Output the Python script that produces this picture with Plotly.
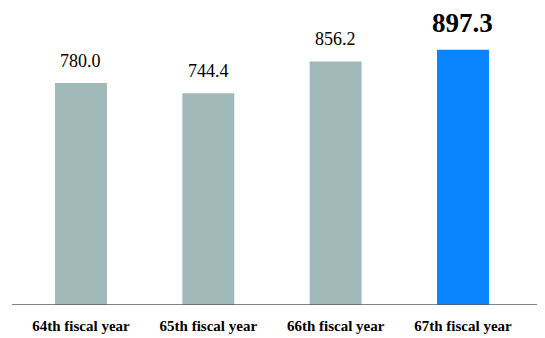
import plotly.graph_objects as go

categories = ["64th fiscal year", "65th fiscal year", "66th fiscal year", "67th fiscal year"]
values = [780.0, 744.4, 856.2, 897.3]
value_labels = ["780.0", "744.4", "856.2", "897.3"]

bar_colors = ["#a2b9b9", "#a2b9b9", "#a2b9b9", "#0a84ff"]
serif = "Liberation Serif, Times New Roman, serif"

fig = go.Figure()
fig.add_trace(go.Bar(
    x=categories, y=values, marker=dict(color=bar_colors, line=dict(width=0)),
    width=0.408, hoverinfo="skip",
))

for i, (c, v, t) in enumerate(zip(categories, values, value_labels)):
    last = i == len(categories) - 1
    fig.add_annotation(
        x=c, y=v, text=t, showarrow=False, xanchor="center", yanchor="middle",
        yshift=27 if last else 22,
        font=dict(family=serif, size=27 if last else 18, color="#000000",
                  weight="bold" if last else "normal"),
    )

fig.add_shape(type="line", xref="paper", yref="y", x0=4/537, x1=1, y0=0, y1=0,
              line=dict(color="#5a5a5a", width=1.6))

fig.update_layout(
    width=537, height=330,
    margin=dict(l=0, r=0, t=0, b=33),
    paper_bgcolor="white", plot_bgcolor="white",
    showlegend=False,
    xaxis=dict(type="category", range=[-0.573, 3.644], showgrid=False, zeroline=False,
               showline=False, ticks="", ticklabelstandoff=10,
               tickfont=dict(family=serif, size=15, color="#000000", weight="bold")),
    yaxis=dict(range=[0, 1044], visible=False, showgrid=False, zeroline=False),
)

fig.write_html("out.html")
